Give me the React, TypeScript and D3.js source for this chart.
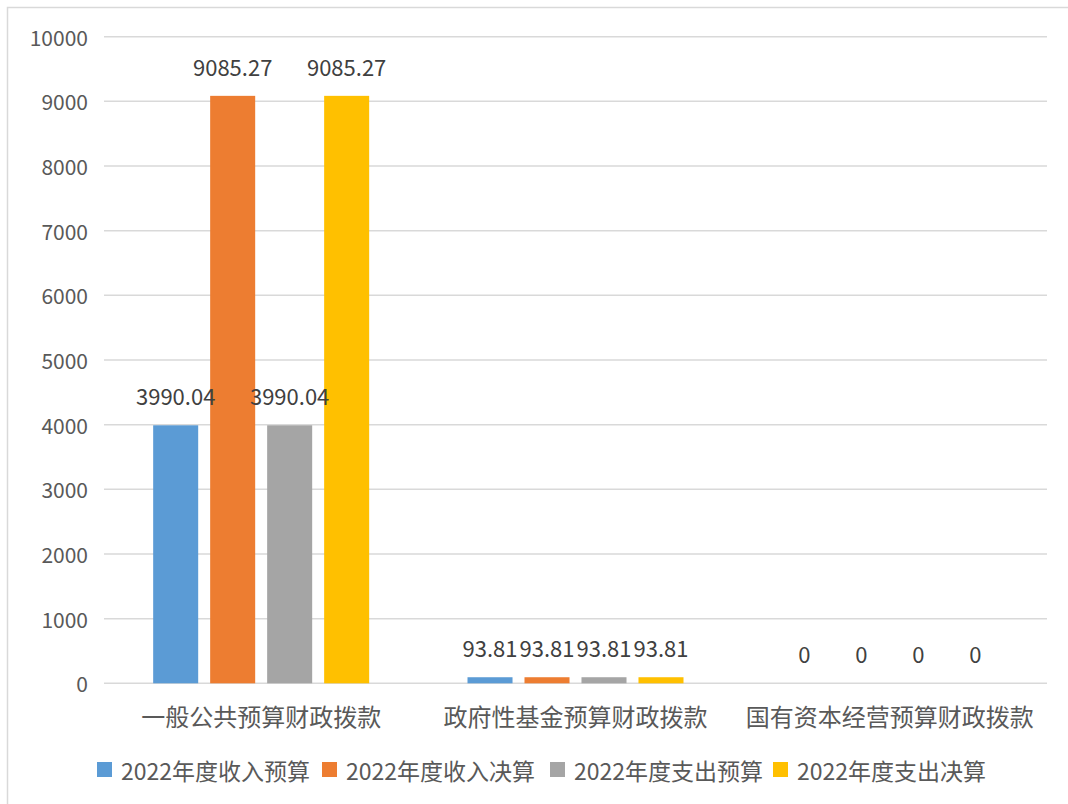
import React from "react";
import * as d3 from "d3";

const categories = ["一般公共预算财政拨款", "政府性基金预算财政拨款", "国有资本经营预算财政拨款"];
const seriesNames = ["2022年度收入预算", "2022年度收入决算", "2022年度支出预算", "2022年度支出决算"];
const seriesColors = ["#5B9BD5", "#ED7D31", "#A5A5A5", "#FFC000"];
const incomeBudget = [3990.04, 93.81, 0];
const incomeFinal = [9085.27, 93.81, 0];
const spendBudget = [3990.04, 93.81, 0];
const spendFinal = [9085.27, 93.81, 0];
const seriesValues = [incomeBudget, incomeFinal, spendBudget, spendFinal];
const yTicks = [0, 1000, 2000, 3000, 4000, 5000, 6000, 7000, 8000, 9000, 10000];

const W = 1068;
const H = 804;
const plotLeft = 104;
const plotRight = 1047;
const plotTop = 36.7;
const plotBottom = 683.3;
const FONT = "'Noto Sans CJK SC', 'Microsoft YaHei', sans-serif";

export default function App() {
  const x0 = d3.scaleBand<string>().domain(categories).range([plotLeft, plotRight]).padding(0);
  const groupW = 216;
  const x1 = d3
    .scaleBand<string>()
    .domain(seriesNames)
    .range([0, groupW])
    .paddingInner(0.21)
    .paddingOuter(0);
  const y = d3.scaleLinear().domain([0, 10000]).range([plotBottom, plotTop]);

  const fmt = (v: number) => (v === 0 ? "0" : String(v));
  const legendX = [97, 322, 550, 773];

  const items = categories.flatMap((c, ci) => {
    const gx = (x0(c) as number) + x0.bandwidth() / 2 - groupW / 2;
    return seriesNames.map((s, si) => {
      const v = seriesValues[si][ci];
      return { key: c + s, v, si, bx: gx + (x1(s) as number), by: y(v) };
    });
  });

  return (
    <svg
      width={W}
      height={H}
      style={{ position: "absolute", left: 0, top: 0, background: "#fff" }}
      fontFamily={FONT}
    >
      <rect x={0} y={0} width={W} height={H} fill="#fff" />
      <rect x={7.5} y={7.5} width={1100} height={900} fill="none" stroke="#D9D9D9" strokeWidth={1.5} />
      {yTicks.map((t) => (
        <g key={t}>
          <line x1={plotLeft} x2={plotRight} y1={y(t)} y2={y(t)} stroke="#D9D9D9" strokeWidth={1.5} />
          <text x={88} y={y(t)} textAnchor="end" dominantBaseline="central" fontSize={21} fill="#595959">
            {t}
          </text>
        </g>
      ))}
      {items.map((d) =>
        d.v > 0 ? (
          <rect
            key={d.key}
            x={d.bx}
            y={d.by}
            width={x1.bandwidth()}
            height={plotBottom - d.by}
            fill={seriesColors[d.si]}
          />
        ) : null
      )}
      {items.map((d) => (
        <text
          key={"l" + d.key}
          x={d.bx + x1.bandwidth() / 2}
          y={d.by - 20}
          textAnchor="middle"
          fontSize={22}
          fill="#404040"
        >
          {fmt(d.v)}
        </text>
      ))}
      {categories.map((c) => (
        <text
          key={c}
          x={(x0(c) as number) + x0.bandwidth() / 2}
          y={715}
          textAnchor="middle"
          dominantBaseline="central"
          fontSize={24}
          fill="#595959"
        >
          {c}
        </text>
      ))}
      {seriesNames.map((s, si) => (
        <g key={s}>
          <rect x={legendX[si]} y={762} width={15} height={15} fill={seriesColors[si]} />
          <text x={legendX[si] + 24} y={770} dominantBaseline="central" fontSize={23} fill="#595959">
            {s}
          </text>
        </g>
      ))}
    </svg>
  );
}
